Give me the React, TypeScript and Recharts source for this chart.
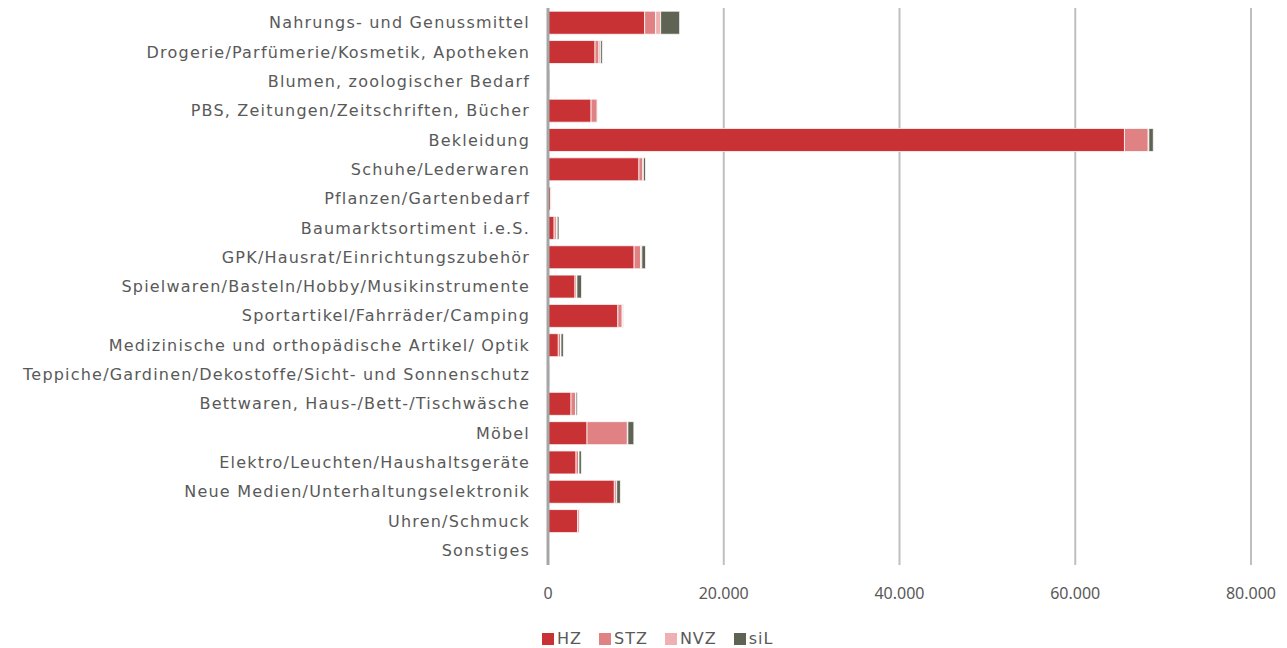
import React from 'react';
import { BarChart, Bar, XAxis, YAxis, CartesianGrid, Legend } from 'recharts';

const categories = [
  'Nahrungs- und Genussmittel',
  'Drogerie/Parfümerie/Kosmetik, Apotheken',
  'Blumen, zoologischer Bedarf',
  'PBS, Zeitungen/Zeitschriften, Bücher',
  'Bekleidung',
  'Schuhe/Lederwaren',
  'Pflanzen/Gartenbedarf',
  'Baumarktsortiment i.e.S.',
  'GPK/Hausrat/Einrichtungszubehör',
  'Spielwaren/Basteln/Hobby/Musikinstrumente',
  'Sportartikel/Fahrräder/Camping',
  'Medizinische und orthopädische Artikel/ Optik',
  'Teppiche/Gardinen/Dekostoffe/Sicht- und Sonnenschutz',
  'Bettwaren, Haus-/Bett-/Tischwäsche',
  'Möbel',
  'Elektro/Leuchten/Haushaltsgeräte',
  'Neue Medien/Unterhaltungselektronik',
  'Uhren/Schmuck',
  'Sonstiges',
];

const hz = [11000, 5350, 100, 4900, 65600, 10350, 300, 700, 9800, 3070, 7950, 1170, 200, 2620, 4440, 3190, 7550, 3380, 30];
const stz = [1250, 450, 20, 700, 2700, 450, 100, 250, 730, 190, 490, 270, 60, 530, 4590, 300, 230, 190, 10];
const nvz = [570, 200, 10, 60, 80, 60, 20, 100, 150, 30, 80, 40, 10, 40, 60, 40, 40, 20, 0];
const sil = [2160, 200, 80, 20, 500, 230, 20, 200, 420, 530, 40, 270, 20, 150, 680, 270, 420, 30, 0];

const xTicks = [0, 20000, 40000, 60000, 80000];

const series = [
  { key: 'HZ', values: hz, color: '#c93234' },
  { key: 'STZ', values: stz, color: '#e08283' },
  { key: 'NVZ', values: nvz, color: '#efb0b1' },
  { key: 'siL', values: sil, color: '#5e6354' },
];

const data = categories.map((name, i) => ({
  name,
  HZ: hz[i],
  STZ: stz[i],
  NVZ: nvz[i],
  siL: sil[i],
}));

const font = '"Noto Sans", sans-serif';
const labelFont = '"DejaVu Sans", sans-serif';
const textColor = '#595959';

const formatDe = (v: number) => String(v).replace(/\B(?=(\d{3})+(?!\d))/g, '.');

const LegendContent = () => (
  <div
    style={{
      display: 'flex',
      gap: 17,
      fontFamily: labelFont,
      fontSize: 16,
      lineHeight: '18px',
      letterSpacing: 1,
      color: textColor,
    }}
  >
    {series.map((s) => (
      <div key={s.key} style={{ display: 'flex', alignItems: 'center' }}>
        <span style={{ width: 12, height: 12, background: s.color, display: 'inline-block', marginRight: 3 }} />
        {s.key}
      </div>
    ))}
  </div>
);

export default function App() {
  return (
    <BarChart
      width={1279}
      height={640}
      data={data}
      layout="vertical"
      margin={{ top: 0, right: 36, bottom: 35, left: 0 }}
      barCategoryGap="11%"
    >
      <CartesianGrid horizontal={false} stroke="#bfbfbf" strokeWidth={2} />
      <XAxis
        type="number"
        domain={[0, 80000]}
        ticks={xTicks}
        tickFormatter={formatDe}
        axisLine={false}
        tickLine={false}
        tickSize={0}
        tickMargin={23}
        tick={{ fontSize: 16, fill: textColor, fontFamily: font }}
        interval={0}
      />
      <YAxis
        type="category"
        dataKey="name"
        width={540}
        axisLine={{ stroke: '#a6a6a6', strokeWidth: 3 }}
        tickLine={false}
        tickSize={0}
        tickMargin={18}
        interval={0}
        tick={{ fontSize: 16, fill: textColor, fontFamily: labelFont, letterSpacing: 1.2 }}
      />
      <Legend
        content={<LegendContent />}
        wrapperStyle={{ left: 534, bottom: 0, width: 'auto' }}
      />
      {series.map((s) => (
        <Bar
          key={s.key}
          dataKey={s.key}
          stackId="a"
          fill={s.color}
          stroke="#ffffff"
          strokeWidth={0.75}
          isAnimationActive={false}
        />
      ))}
    </BarChart>
  );
}
